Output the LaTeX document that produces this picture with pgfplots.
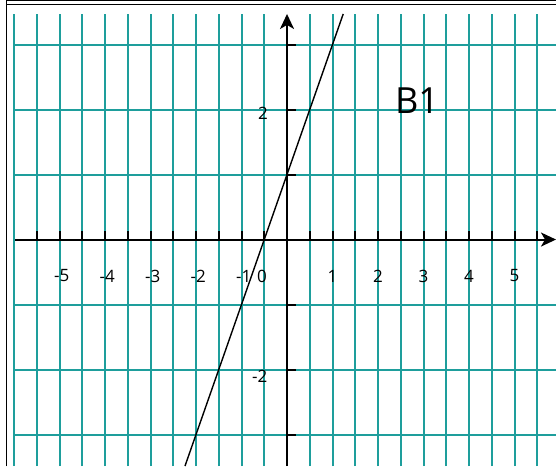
\documentclass[border=0pt]{standalone}
\usepackage{fontspec}
\setmainfont{Open Sans}
\usepackage{pgfplots}
\pgfplotsset{compat=1.18}
\usetikzlibrary{arrows.meta}
\definecolor{gridc}{RGB}{30,158,156}
\newcommand\tl{\fontsize{17}{19}\selectfont}
\begin{document}
\begin{tikzpicture}
\begin{axis}[
 scale only axis, width=542pt, height=452.1pt,
 xmin=-6, xmax=5.912, ymin=-3.485, ymax=3.47,
 axis lines=middle,
 axis line style={line width=2pt},
 every inner x axis line/.append style={-{Stealth[length=15pt,width=14pt,inset=4pt]}},
 every inner y axis line/.append style={-{Stealth[length=15pt,width=14pt,inset=4pt]}},
 xtick={-5.5,-5,...,5.5}, ytick={-3,...,3},
 extra x ticks={-6}, extra x tick style={major tick length=0pt, grid=major},
 extra x tick labels={},
 xticklabel=\empty, yticklabel=\empty,
 tick align=inside, major tick length=9pt,
 every inner x axis/.append style={tick align=inside},
 every inner y axis/.append style={tick align=inside},
 every tick/.style={black, line width=2pt},
 grid=major, major grid style={draw=gridc, line width=2pt},
 clip=false,
]
\addplot[black, line width=1.4pt] coordinates {(-2.2425,-3.485) (1.235,3.47)};
% frames
\draw[line width=1pt] (axis cs:-6.169,-3.485) -- (axis cs:-6.169,3.679) -- (axis cs:5.912,3.679);
\draw[line width=1pt] (axis cs:-6.156,-3.485) -- (axis cs:-6.156,3.612) -- (axis cs:5.912,3.612);
% tick labels
\node[font=\tl] at (axis cs:-4.95,-0.56) {-5};
\node[font=\tl] at (axis cs:-3.95,-0.56) {-4};
\node[font=\tl] at (axis cs:-2.95,-0.56) {-3};
\node[font=\tl] at (axis cs:-1.95,-0.56) {-2};
\node[font=\tl] at (axis cs:-0.95,-0.56) {-1};
\node[font=\tl] at (axis cs:-0.55,-0.56) {0};
\node[font=\tl] at (axis cs:1,-0.56) {1};
\node[font=\tl] at (axis cs:2,-0.56) {2};
\node[font=\tl] at (axis cs:3,-0.56) {3};
\node[font=\tl] at (axis cs:4,-0.56) {4};
\node[font=\tl] at (axis cs:5,-0.56) {5};
\node[font=\tl] at (axis cs:-0.53,1.946) {2};
\node[font=\tl] at (axis cs:-0.6,-2.1) {-2};
\node[font=\fontsize{36}{40}\selectfont, inner sep=0pt] at (axis cs:2.857,2.14) {B1};
\coordinate (bbA) at (axis cs:-6.308,-3.485);
\coordinate (bbB) at (axis cs:5.912,3.685);
\end{axis}
\pgfresetboundingbox
\path[use as bounding box] (bbA) rectangle (bbB);
\end{tikzpicture}
\end{document}
